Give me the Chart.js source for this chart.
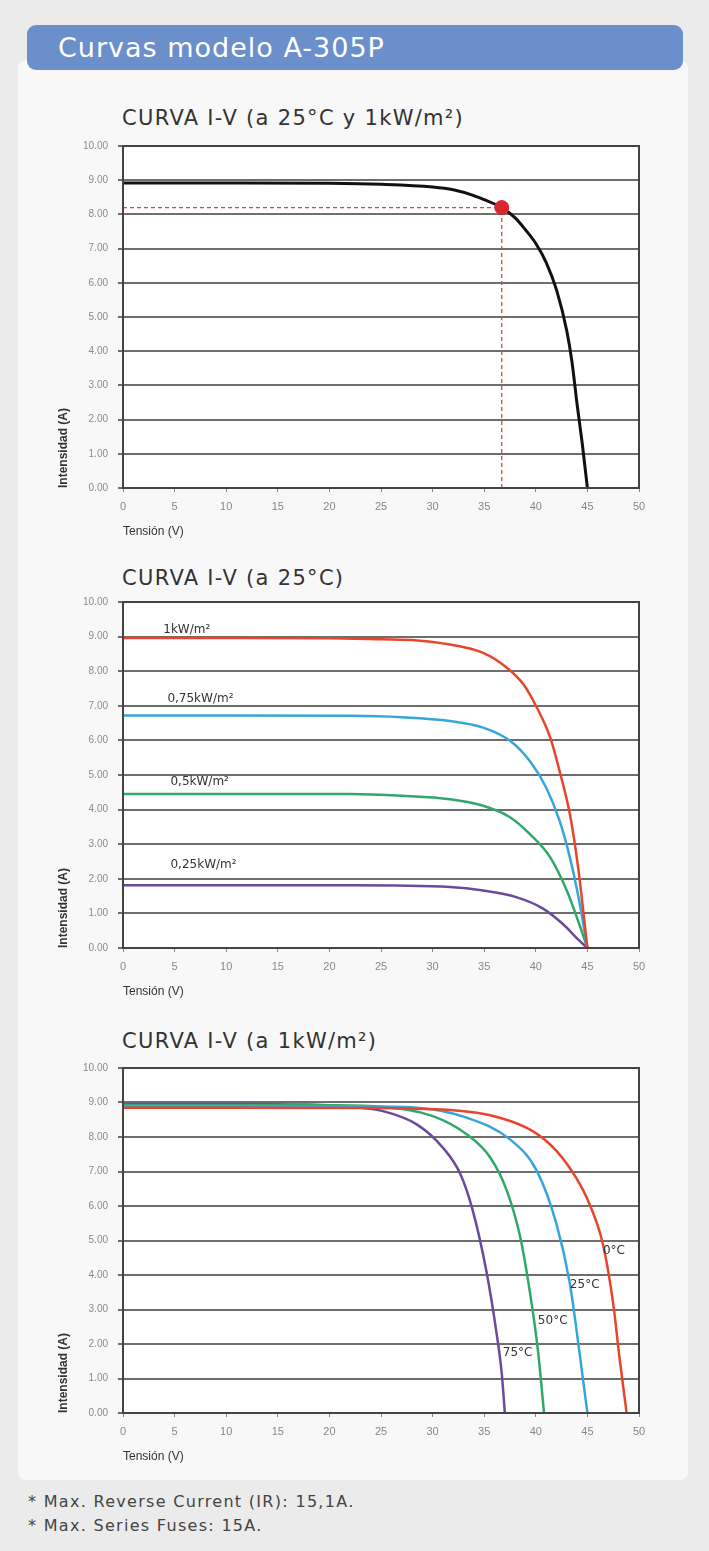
<!DOCTYPE html>
<html>
<head>
<meta charset="utf-8">
<script src="https://cdn.jsdelivr.net/npm/chart.js@4.4.1/dist/chart.umd.min.js"></script>
<style>
  html, body { margin: 0; padding: 0; }
  body { width: 709px; height: 1551px; background: #ebebeb; position: relative; overflow: hidden; font-family: "DejaVu Sans", Verdana, sans-serif; }
  .panel { position: absolute; left: 18px; top: 60px; width: 670px; height: 1420px; background: #f8f8f8; border-radius: 8px; }
  .header { position: absolute; left: 27px; top: 25px; width: 656px; height: 45px; background: #6b8fca; border-radius: 9px; color: #fff; font-size: 27px; letter-spacing: 1px; line-height: 45px; padding-left: 31px; box-sizing: border-box; }
  .ctitle { position: absolute; left: 122px; font-size: 21px; letter-spacing: 1.3px; color: #333; white-space: nowrap; }
  canvas { position: absolute; }
  .note { position: absolute; left: 28px; font-size: 16px; letter-spacing: 1.3px; color: #444; }
</style>
</head>
<body>
<div class="panel"></div>
<div class="header">Curvas modelo A-305P</div>

<div class="ctitle" style="top:106px">CURVA I-V (a 25°C y 1kW/m²)</div>
<canvas id="chart1" width="620" height="418" style="left:40px;top:130px"></canvas>

<div class="ctitle" style="top:566px">CURVA I-V (a 25°C)</div>
<canvas id="chart2" width="620" height="422" style="left:40px;top:586px"></canvas>

<div class="ctitle" style="top:1029px">CURVA I-V (a 1kW/m²)</div>
<canvas id="chart3" width="620" height="421" style="left:40px;top:1052px"></canvas>

<div class="note" style="top:1492px">* Max. Reverse Current (IR): 15,1A.</div>
<div class="note" style="top:1516px">* Max. Series Fuses: 15A.</div>

<script>
// curva 1: 25ºC y 1kW/m2
const v1 = [0, 10, 20, 25, 30, 32, 34, 35, 36.7, 38, 39, 40, 41, 42, 43, 43.5, 44, 44.5, 45];
const i1 = [8.92, 8.92, 8.91, 8.88, 8.8, 8.72, 8.55, 8.43, 8.2, 7.9, 7.55, 7.15, 6.6, 5.8, 4.6, 3.7, 2.45, 1.3, 0];
const mppV = 36.7;
const mppI = 8.2;

// curva 2: irradiancias a 25ºC
const irrLabels = ['1kW/m²', '0,75kW/m²', '0,5kW/m²', '0,25kW/m²'];
const v2_100 = [0, 10, 20, 25, 28.5, 31.7, 34.9, 37.2, 38.8, 40.1, 41.4, 42.3, 43.3, 44.1, 45];
const i2_100 = [8.96, 8.96, 8.95, 8.92, 8.89, 8.77, 8.53, 8.1, 7.62, 6.95, 6.08, 5.12, 3.87, 2.33, 0];
const v2_75 = [0, 10, 22, 27, 31.7, 34.9, 37.5, 39.4, 41.0, 42.3, 43.3, 44.2, 45];
const i2_75 = [6.72, 6.72, 6.71, 6.67, 6.56, 6.37, 5.99, 5.41, 4.64, 3.68, 2.62, 1.37, 0];
const v2_50 = [0, 10, 22, 27, 31.7, 34.9, 37.5, 39.4, 41.4, 43.0, 44.2, 45];
const i2_50 = [4.45, 4.45, 4.45, 4.40, 4.3, 4.11, 3.78, 3.3, 2.62, 1.66, 0.70, 0];
const v2_25 = [0, 10, 22, 31.7, 34.9, 38.1, 40.7, 42.6, 44.2, 45];
const i2_25 = [1.81, 1.81, 1.81, 1.76, 1.66, 1.47, 1.14, 0.70, 0.22, 0];
// donde van las etiquetas (V, A)
const irrLabelV = [3.9, 4.3, 4.6, 4.6];
const irrLabelI = [9.2, 7.2, 4.8, 2.4];

// curva 3: temperaturas a 1kW/m2
const tempLabels = ['0°C', '25°C', '50°C', '75°C'];
const v3_0 = [0, 10, 22, 31.7, 36.5, 39.7, 42.0, 43.9, 45.2, 46.5, 47.5, 48.1, 48.8];
const i3_0 = [8.85, 8.85, 8.84, 8.78, 8.56, 8.17, 7.6, 6.82, 6.06, 4.9, 3.17, 1.63, 0];
const v3_25 = [0, 10, 22, 28.5, 33.3, 37.5, 40.1, 42.0, 43.3, 44.2, 45.0];
const i3_25 = [8.9, 8.9, 8.89, 8.85, 8.56, 7.93, 7.02, 5.48, 3.75, 1.83, 0];
const v3_50 = [0, 10, 20, 25.2, 30.1, 33.3, 35.6, 37.2, 38.5, 39.4, 40.2, 40.8];
const i3_50 = [8.93, 8.93, 8.92, 8.87, 8.6, 8.08, 7.4, 6.44, 5.09, 3.56, 1.83, 0];
const v3_75 = [0, 10, 18, 22, 25.2, 28.5, 31.0, 32.7, 33.9, 35.2, 36.2, 36.7, 37.0];
const i3_75 = [8.96, 8.96, 8.94, 8.87, 8.75, 8.36, 7.69, 6.92, 5.86, 4.13, 2.31, 1.15, 0];
const tempLabelV = [46.5, 43.3, 40.2, 36.8];
const tempLabelI = [4.7, 3.7, 2.66, 1.74];

const xTicks = [0, 5, 10, 15, 20, 25, 30, 35, 40, 45, 50];

const colRed = '#e8452c';
const colBlue = '#35a6dc';
const colGreen = '#2fa86a';
const colPurple = '#6a4a9c';

function pts(vs, is) {
    return vs.map((v, k) => ({ x: v, y: is[k] }));
}

function curve(vs, is, color, width) {
    return {
        data: pts(vs, is),
        borderColor: color,
        borderWidth: width,
        pointRadius: 0,
        cubicInterpolationMode: 'monotone',
        fill: false
    };
}

// fondo blanco, marco del area de dibujo y etiquetas de texto
const framePlugin = {
    id: 'frame',
    beforeDraw(chart) {
        const { ctx, chartArea: a } = chart;
        ctx.save();
        ctx.fillStyle = '#fff';
        ctx.fillRect(a.left, a.top, a.right - a.left, a.bottom - a.top);
        ctx.restore();
    },
    afterDatasetsDraw(chart, args, opts) {
        const { ctx, chartArea: a, scales } = chart;
        ctx.save();
        ctx.strokeStyle = '#444';
        ctx.lineWidth = 2;
        ctx.strokeRect(a.left, a.top, a.right - a.left, a.bottom - a.top);
        if (opts.texts) {
            ctx.font = '12px "DejaVu Sans", Verdana';
            ctx.fillStyle = '#333';
            ctx.textBaseline = 'middle';
            ctx.textAlign = 'left';
            opts.texts.forEach((t, k) => {
                ctx.fillText(t, scales.x.getPixelForValue(opts.tv[k]), scales.y.getPixelForValue(opts.ti[k]));
            });
        }
        ctx.restore();
    }
};

function makeChart(id, datasets, texts, tv, ti) {
    return new Chart(document.getElementById(id), {
        type: 'line',
        data: { datasets: datasets },
        plugins: [framePlugin],
        options: {
            responsive: false,
            animation: false,
            devicePixelRatio: 1,
            layout: { padding: { top: 7, right: 21, bottom: 0, left: 0 } },
            plugins: {
                legend: { display: false },
                tooltip: { enabled: false },
                frame: { texts: texts, tv: tv, ti: ti }
            },
            scales: {
                x: {
                    type: 'linear',
                    min: 0,
                    max: 50,
                    afterBuildTicks: s => { s.ticks = xTicks.map(v => ({ value: v })); },
                    afterFit: s => { s.height = 60; },
                    grid: { drawOnChartArea: false, drawTicks: true, tickLength: 4, color: '#888' },
                    border: { display: true, color: '#444', width: 2 },
                    ticks: { padding: 8, color: '#888', font: { family: '"Liberation Sans", Arial', size: 11 }, maxRotation: 0 },
                    title: { display: true, text: 'Tensión (V)', align: 'start', color: '#333', padding: { top: 0, bottom: 9 }, font: { family: '"Liberation Sans", Arial', size: 12 } }
                },
                y: {
                    min: 0,
                    max: 10,
                    afterFit: s => { s.width = 83; },
                    grid: { color: '#6e6e6e', lineWidth: 2, tickLength: 5 },
                    border: { display: true, color: '#444', width: 2 },
                    ticks: { stepSize: 1, padding: 10, color: '#8a8a8a', font: { family: '"Liberation Sans", Arial', size: 10 }, callback: v => v.toFixed(2) },
                    title: { display: true, text: 'Intensidad (A)', align: 'start', color: '#333', padding: { top: 16, bottom: 0 }, font: { family: '"Liberation Sans", Arial', size: 12, weight: 'bold' } }
                }
            }
        }
    });
}

// grafico 1
makeChart('chart1', [
    {
        data: [{ x: mppV, y: mppI }],
        pointRadius: 7,
        pointBackgroundColor: '#d8262c',
        pointBorderColor: '#d8262c',
        showLine: false
    },
    curve(v1, i1, '#111', 3),
    {
        data: [{ x: 0, y: mppI }, { x: mppV, y: mppI }],
        borderColor: '#ec3b3b', borderWidth: 1.3, borderDash: [4, 3], pointRadius: 0
    },
    {
        data: [{ x: mppV, y: 0 }, { x: mppV, y: mppI }],
        borderColor: '#ec3b3b', borderWidth: 1.3, borderDash: [4, 3], pointRadius: 0
    }
]);

// grafico 2
makeChart('chart2', [
    curve(v2_100, i2_100, colRed, 2.5),
    curve(v2_75, i2_75, colBlue, 2.5),
    curve(v2_50, i2_50, colGreen, 2.5),
    curve(v2_25, i2_25, colPurple, 2.5)
], irrLabels, irrLabelV, irrLabelI);

// grafico 3
makeChart('chart3', [
    curve(v3_0, i3_0, colRed, 2.5),
    curve(v3_25, i3_25, colBlue, 2.5),
    curve(v3_50, i3_50, colGreen, 2.5),
    curve(v3_75, i3_75, colPurple, 2.5)
], tempLabels, tempLabelV, tempLabelI);
</script>
</body>
</html>
